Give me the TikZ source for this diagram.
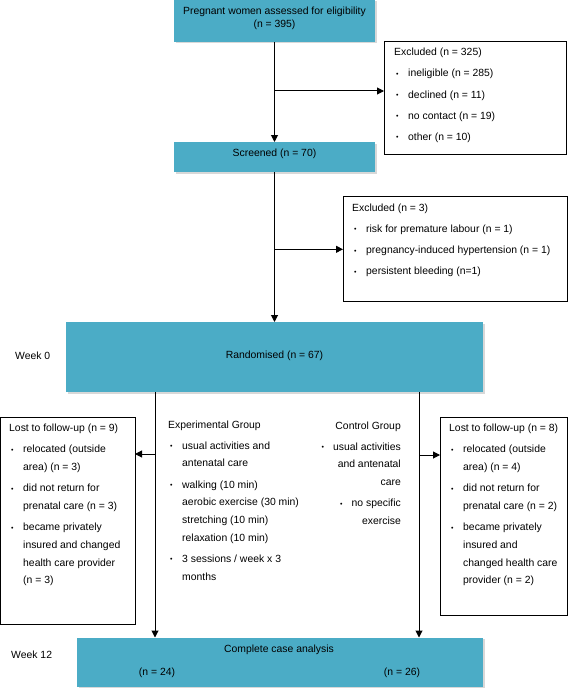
\documentclass[tikz,border=0pt]{standalone}
\usepackage{fontspec}
\setmainfont{Liberation Sans}
\usetikzlibrary{positioning,arrows.meta,shadows}

\definecolor{boxteal}{HTML}{4BACC6}
\newcommand{\dotmark}{\raisebox{0.6pt}{\fontsize{7}{7}\selectfont\textbullet}}
\newcommand{\bul}{\hspace*{2pt}\makebox[12pt][l]{\dotmark}}
\newcommand{\cbul}{\makebox[11.6pt][l]{\dotmark}}
\newcommand{\ind}{\hspace*{14pt}}

\begin{document}
\begin{tikzpicture}[x=1pt, y=-1pt,
font=\fontsize{10.4}{17.7}\selectfont,
TealBox/.style={fill=boxteal, anchor=north west, inner sep=0pt, outer sep=0pt,
                drop shadow={shadow xshift=1.5pt, shadow yshift=-1.5pt, fill=gray!60}},
WhiteBox/.style={draw, line width=1pt, anchor=north west, inner sep=0pt, outer sep=0pt},
ListText/.style={align=left, inner sep=0pt},
Arrow/.style={line width=1pt, -{Triangle[length=7pt, width=7pt]}},]
\useasboundingbox (0,0) rectangle (568,690);

% top part
\node [TealBox, minimum width=201pt, minimum height=42pt, align=center,
       font=\fontsize{10.4}{13.3}\selectfont, text height=20.9pt, text depth=7.5pt]
      (assess) at (174,0) {Pregnant women assessed for eligibility\\(n = 395)};
\node [WhiteBox, minimum width=182pt, minimum height=112pt] (excl1) at (384,42) {};
\node [ListText, below right=6pt and 10pt of excl1.north west] (excl1txt)
      {Excluded (n = 325)\\[3.5pt]\bul ineligible (n = 285)\\[3.5pt]\bul declined (n = 11)\\[3.5pt]%
       \bul no contact (n = 19)\\[3.5pt]\bul other (n = 10)};
\node [TealBox, minimum width=201pt, minimum height=30pt, text height=7.6pt, text depth=8.2pt]
      (screen) at (174,142) {Screened (n = 70)};
\node [WhiteBox, minimum width=224pt, minimum height=105pt] (excl2) at (343,196) {};
\node [ListText, below right=7.5pt and 9pt of excl2.north west] (excl2txt)
      {Excluded (n = 3)\\[3.5pt]\bul risk for premature labour (n = 1)\\[3.5pt]%
       \bul pregnancy-induced hypertension (n = 1)\\[3.5pt]\bul persistent bleeding (n=1)};
\node [TealBox, minimum width=417pt, minimum height=70pt, text height=7.6pt, text depth=4.2pt]
      (random) at (66,322) {Randomised (n = 67)};
\node [anchor=west, inner sep=0pt] (week0) at (15,356) {Week 0};

% groups
\node [WhiteBox, minimum width=134.5pt, minimum height=207pt] (lost1) at (0.5,417) {};
\node [ListText, below right=7pt and 8.5pt of lost1.north west] (lost1txt)
      {Lost to follow-up (n = 9)\\[3.5pt]\bul relocated (outside\\\ind area) (n = 3)\\[3.5pt]%
       \bul did not return for\\\ind prenatal care (n = 3)\\[3.5pt]\bul became privately\\%
       \ind insured and changed\\\ind health care provider\\\ind (n = 3)};
\node [ListText, anchor=north west] (exptxt) at (168,420.3)
      {Experimental Group\\[3.5pt]\bul usual activities and\\\ind antenatal care\\[3.5pt]%
       \bul walking (10 min)\\\ind aerobic exercise (30 min)\\\ind stretching (10 min)\\%
       \ind relaxation (10 min)\\[3.5pt]\bul 3 sessions / week x 3\\\ind months};
\node [ListText, align=right, anchor=north east] (ctrltxt) at (401,421.3)
      {Control Group\\[3.5pt]\cbul usual activities\\and antenatal\\care\\[3.5pt]%
       \cbul no specific\\exercise};
\node [WhiteBox, minimum width=127pt, minimum height=198pt] (lost2) at (440,417) {};
\node [ListText, below right=7pt and 9pt of lost2.north west] (lost2txt)
      {Lost to follow-up (n = 8)\\[3.5pt]\bul relocated (outside\\\ind area) (n = 4)\\[3.5pt]%
       \bul did not return for\\\ind prenatal care (n = 2)\\[3.5pt]\bul became privately\\%
       \ind insured and\\\ind changed health care\\\ind provider (n = 2)};

% bottom
\node [TealBox, minimum width=406pt, minimum height=49pt] (complete) at (77,637.5) {};
\node [anchor=base, inner sep=0pt] (completetxt) at (279,652) {Complete case analysis};
\node [anchor=base, inner sep=0pt] (expn) at (157,675.4) {(n = 24)};
\node [anchor=base, inner sep=0pt] (ctrln) at (402,675.4) {(n = 26)};
\node [anchor=west, inner sep=0pt] (week12) at (11,654.3) {Week 12};

% connectors
\coordinate (split1) at (274.5,91);
\coordinate (split2) at (274.5,249.3);
\coordinate (expline) at (155,454);
\coordinate (ctrlline) at (419,455);
\draw [Arrow] (assess.south) -- (screen.north);
\draw [Arrow] (split1) -- (split1 -| excl1.west);
\draw [Arrow] (screen.south) -- (random.north);
\draw [Arrow] (split2) -- (split2 -| excl2.west);
\draw [Arrow] (random.south -| expline) -- (complete.north -| expline);
\draw [Arrow] (expline) -- (expline -| lost1.east);
\draw [Arrow] (random.south -| ctrlline) -- (complete.north -| ctrlline);
\draw [Arrow] (ctrlline) -- (ctrlline -| lost2.west);
\end{tikzpicture}
\end{document}
